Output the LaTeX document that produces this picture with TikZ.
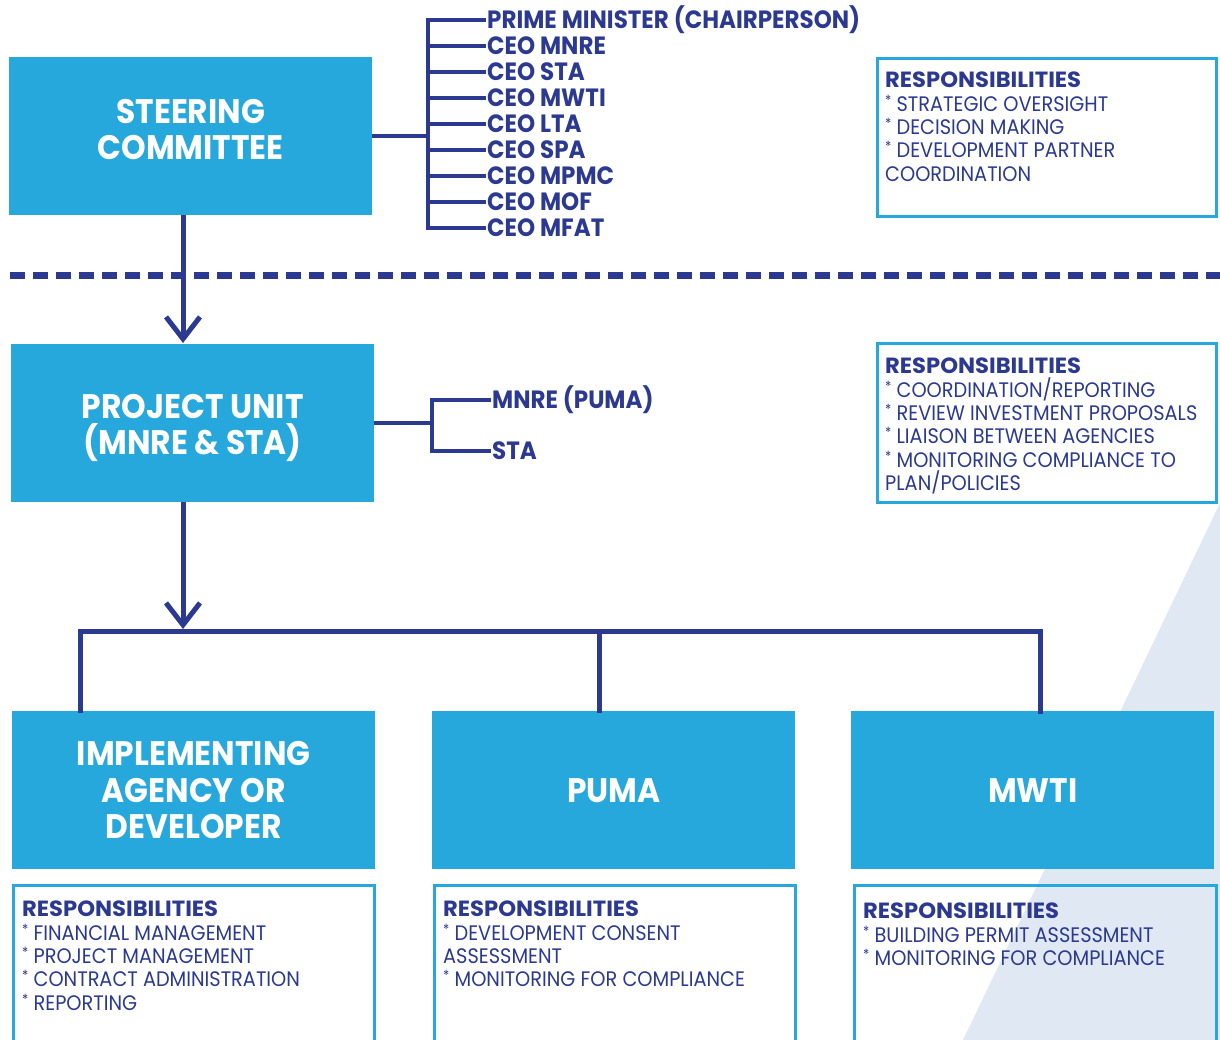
\documentclass[tikz,border=0pt]{standalone}
\usepackage{fontspec}
\setmainfont{Poppins}[FakeStretch=0.92]
\newfontfamily\headfont{Poppins}[FakeStretch=1.03]
\usetikzlibrary{arrows.meta}

\definecolor{navy}{HTML}{2B3990}
\definecolor{skyblue}{HTML}{26A8DC}
\definecolor{paleblue}{HTML}{DFE8F3}

\newcommand{\resphead}{{\headfont\bfseries\fontsize{22}{23.3}\selectfont RESPONSIBILITIES}}
\newcommand{\starmark}{\raisebox{6pt}{\fontsize{14}{14}\selectfont*}}

\tikzset{
  unit/.style={fill=skyblue, text=white, font=\bfseries\fontsize{34}{36.5}\selectfont,
    align=center, minimum width=363, minimum height=158, anchor=north west, inner sep=0},
  member/.style={text=navy, font=\bfseries\fontsize{25}{25}\selectfont, anchor=west, inner sep=1},
  link/.style={draw=navy, line width=5},
  twig/.style={draw=navy, line width=4, to path={|- (\tikztotarget)}},
  downarrow/.style={link, -{Straight Barb[length=22pt, width=34pt]}},
  respbox/.style={draw=skyblue, line width=3, anchor=north west, inner sep=0},
  resptext/.style={text=navy, font=\fontsize{21}{23.3}\selectfont, align=left,
    anchor=north west, inner sep=0},
}

\begin{document}
\begin{tikzpicture}[x=1pt, y=-1pt]
		\clip (0,0) rectangle (1220,1040);
		\fill[paleblue] (1220,503) -- (1220,1040) -- (963,1040) -- cycle;

		% steering committee and its members
		\node[unit] (sc) at (9,57) {STEERING\\COMMITTEE\rule[-14pt]{0pt}{0pt}};
		\node[member] (m1) at (486,20) {PRIME MINISTER (CHAIRPERSON)};
		\node[member] (m2) at (486,46) {CEO MNRE};
		\node[member] (m3) at (486,72) {CEO STA};
		\node[member] (m4) at (486,98) {CEO MWTI};
		\node[member] (m5) at (486,124) {CEO LTA};
		\node[member] (m6) at (486,150) {CEO SPA};
		\node[member] (m7) at (486,176) {CEO MPMC};
		\node[member] (m8) at (486,202) {CEO MOF};
		\node[member] (m9) at (486,228) {CEO MFAT};
		\coordinate (sj) at (428,136);
		\draw[link, line width=4] (sc.east) -- (sc.east -| sj);
		\foreach \m in {m1,m2,m3,m4,m5,m6,m7,m8,m9}
			\path[twig] (sj) edge (\m.west);

		% dividing line
		\coordinate (dl) at (10,276);
		\coordinate (dr) at (1220,276);
		\draw[navy, line width=7, dash pattern=on 15pt off 8pt] (dl) -- (dr);

		% project unit
		\coordinate (hub) at (183,631);
		\node[unit] (pu) at (11,344) {\rule{0pt}{34pt}PROJECT UNIT\\(MNRE \& STA)};
		\draw[downarrow] (sc.south -| hub) -- ([yshift=1pt]pu.north -| hub);
		\node[member] (p1) at (491,400) {MNRE (PUMA)};
		\node[member] (p2) at (491,451) {STA};
		\coordinate (pj) at (432,423);
		\draw[link, line width=4] (pu.east) -- (pu.east -| pj);
		\path[twig] (pj) edge (p1.west);
		\path[twig] (pj) edge (p2.west);

		% responsibilities, upper right
		\node[respbox, minimum width=339, minimum height=158] (r1) at (876,57) {};
		\node[resptext] (r1t) at (885,72) {\resphead\\\starmark{} STRATEGIC OVERSIGHT\\\starmark{} DECISION MAKING\\\starmark{} DEVELOPMENT PARTNER\\COORDINATION};
		\node[respbox, minimum width=339, minimum height=159] (r2) at (876,342) {};
		\node[resptext] (r2t) at (885,358) {\resphead\\\starmark{} COORDINATION/REPORTING\\\starmark{} REVIEW INVESTMENT PROPOSALS\\\starmark{} LIAISON BETWEEN AGENCIES\\\starmark{} MONITORING COMPLIANCE TO\\PLAN/POLICIES};

		% agencies
		\node[unit] (ia) at (12,711) {IMPLEMENTING\\AGENCY OR\\DEVELOPER};
		\node[unit] (pm) at (432,711) {PUMA};
		\node[unit] (mw) at (851,711) {MWTI};
		\coordinate (t1) at (80,713);
		\coordinate (t2) at (599,713);
		\coordinate (t3) at (1040,714);
		\draw[downarrow] (pu.south -| hub) -- ([yshift=2pt]hub);
		\draw[link] (t1) |- (hub) -| (t3);
		\draw[link] (t2) -- (t2 |- hub);

		% responsibilities, bottom row
		\node[respbox, minimum width=361, minimum height=190] (r3) at (12,884) {};
		\node[resptext] (r3t) at (22,901) {\resphead\\\starmark{} FINANCIAL MANAGEMENT\\\starmark{} PROJECT MANAGEMENT\\\starmark{} CONTRACT ADMINISTRATION\\\starmark{} REPORTING};
		\node[respbox, minimum width=361, minimum height=190] (r4) at (433,884) {};
		\node[resptext] (r4t) at (443,901) {\resphead\\\starmark{} DEVELOPMENT CONSENT\\ASSESSMENT\\\starmark{} MONITORING FOR COMPLIANCE};
		\node[respbox, minimum width=362, minimum height=190] (r5) at (853,884) {};
		\node[resptext] (r5t) at (863,903) {\resphead\\\starmark{} BUILDING PERMIT ASSESSMENT\\\starmark{} MONITORING FOR COMPLIANCE};
	\end{tikzpicture}
\end{document}
